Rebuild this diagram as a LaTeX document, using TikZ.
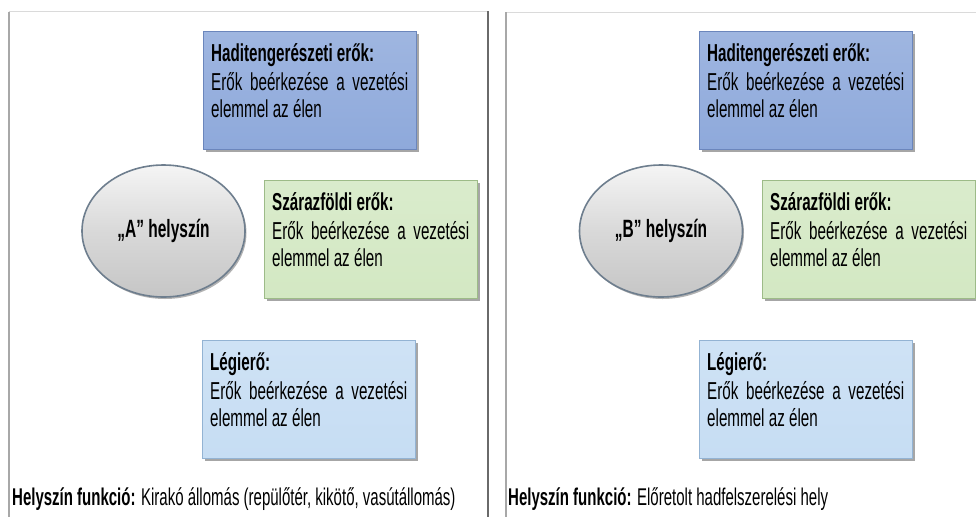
\documentclass[tikz,border=0pt]{standalone}
\usepackage{fontspec}
\setmainfont[FakeStretch=0.62]{Liberation Sans}
\usetikzlibrary{shapes.geometric,shadows,calc}
\definecolor{navyfill}{HTML}{8EA9DB}
\definecolor{navyedge}{HTML}{6B86BC}
\definecolor{landfill}{HTML}{D3E8C3}
\definecolor{landedge}{HTML}{9DBB88}
\definecolor{airfill}{HTML}{C6DDF3}
\definecolor{airedge}{HTML}{93B3D3}
\definecolor{siterim}{HTML}{6E7E8E}
\definecolor{panelline}{HTML}{A8A8A8}
\definecolor{paneltop}{HTML}{DADADA}
\definecolor{panelright}{HTML}{6A6A6A}
\newcommand{\boxtxt}[1]{{\bfseries #1}\\[2pt]\hbox to 197pt{Erők\hfill beérkezése\hfill a\hfill vezetési}\\elemmel az élen}
\tikzset{
  forcebox/.style={rectangle, anchor=north west, inner sep=0pt,
    minimum width=213pt, minimum height=118pt, line width=1.2pt,
    draw=#1edge, top color=#1fill!85!white, bottom color=#1fill,
    drop shadow={shadow xshift=2pt, shadow yshift=-2pt, opacity=0.35, fill=black}},
  forcetext/.style={anchor=base west, inner sep=0pt, align=left,
    font=\fontsize{24.5}{27}\selectfont, text=black},
  sitenode/.style={ellipse, minimum width=163pt, minimum height=132pt, inner sep=0pt,
    draw=siterim, line width=1.6pt, top color=white!92!gray, bottom color=gray!45,
    middle color=gray!30,
    font=\bfseries\fontsize{25}{28}\selectfont,
    drop shadow={shadow xshift=1.5pt, shadow yshift=-2pt, opacity=0.3, fill=black}},
  functext/.style={anchor=base west, inner sep=0pt, font=\fontsize{24.2}{26}\selectfont}
}
\begin{document}
\begin{tikzpicture}[x=1pt,y=-1pt]
\useasboundingbox (0,0) rectangle (976,517);
\fill[white] (0,0) rectangle (976,517);
% panel frames
\draw[paneltop, line width=1pt] (8.5,11.5) -- (488,11.5);
\draw[panelline, line width=2pt] (9,11.5) -- (9,517);
\draw[panelright, line width=2.5pt] (488,11) -- (488,517);
\draw[paneltop, line width=1pt] (505,12) -- (976,12);
\draw[panelline, line width=2pt] (505.5,12) -- (505.5,517);

% ---------- left panel ----------
\node[forcebox=navy] (navyA) at (203,31) {};
\node[forcetext] (navyAt) at ($(navyA.north west)+(8,86)$) {\boxtxt{Haditengerészeti erők:}};
\node[forcebox=land] (landA) at (264,180) {};
\node[forcetext] (landAt) at ($(landA.north west)+(8,86)$) {\boxtxt{Szárazföldi erők:}};
\node[forcebox=air] (airA) at (202,340) {};
\node[forcetext] (airAt) at ($(airA.north west)+(8,86)$) {\boxtxt{Légierő:}};
\node[sitenode] (siteA) at (163.5,231) {„A” helyszín};
\node[functext] (funcA) at (12,505) {\textbf{Helyszín funkció:} Kirakó állomás (repülőtér, kikötő, vasútállomás)};

% ---------- right panel ----------
\node[forcebox=navy] (navyB) at (699,31) {};
\node[forcetext] (navyBt) at ($(navyB.north west)+(8,86)$) {\boxtxt{Haditengerészeti erők:}};
\node[forcebox=land] (landB) at (762,180) {};
\node[forcetext] (landBt) at ($(landB.north west)+(8,86)$) {\boxtxt{Szárazföldi erők:}};
\node[forcebox=air] (airB) at (699,340) {};
\node[forcetext] (airBt) at ($(airB.north west)+(8,86)$) {\boxtxt{Légierő:}};
\node[sitenode] (siteB) at (661,231) {„B” helyszín};
\node[functext] (funcB) at (508,505) {\textbf{Helyszín funkció:} Előretolt hadfelszerelési hely};
\end{tikzpicture}
\end{document}
